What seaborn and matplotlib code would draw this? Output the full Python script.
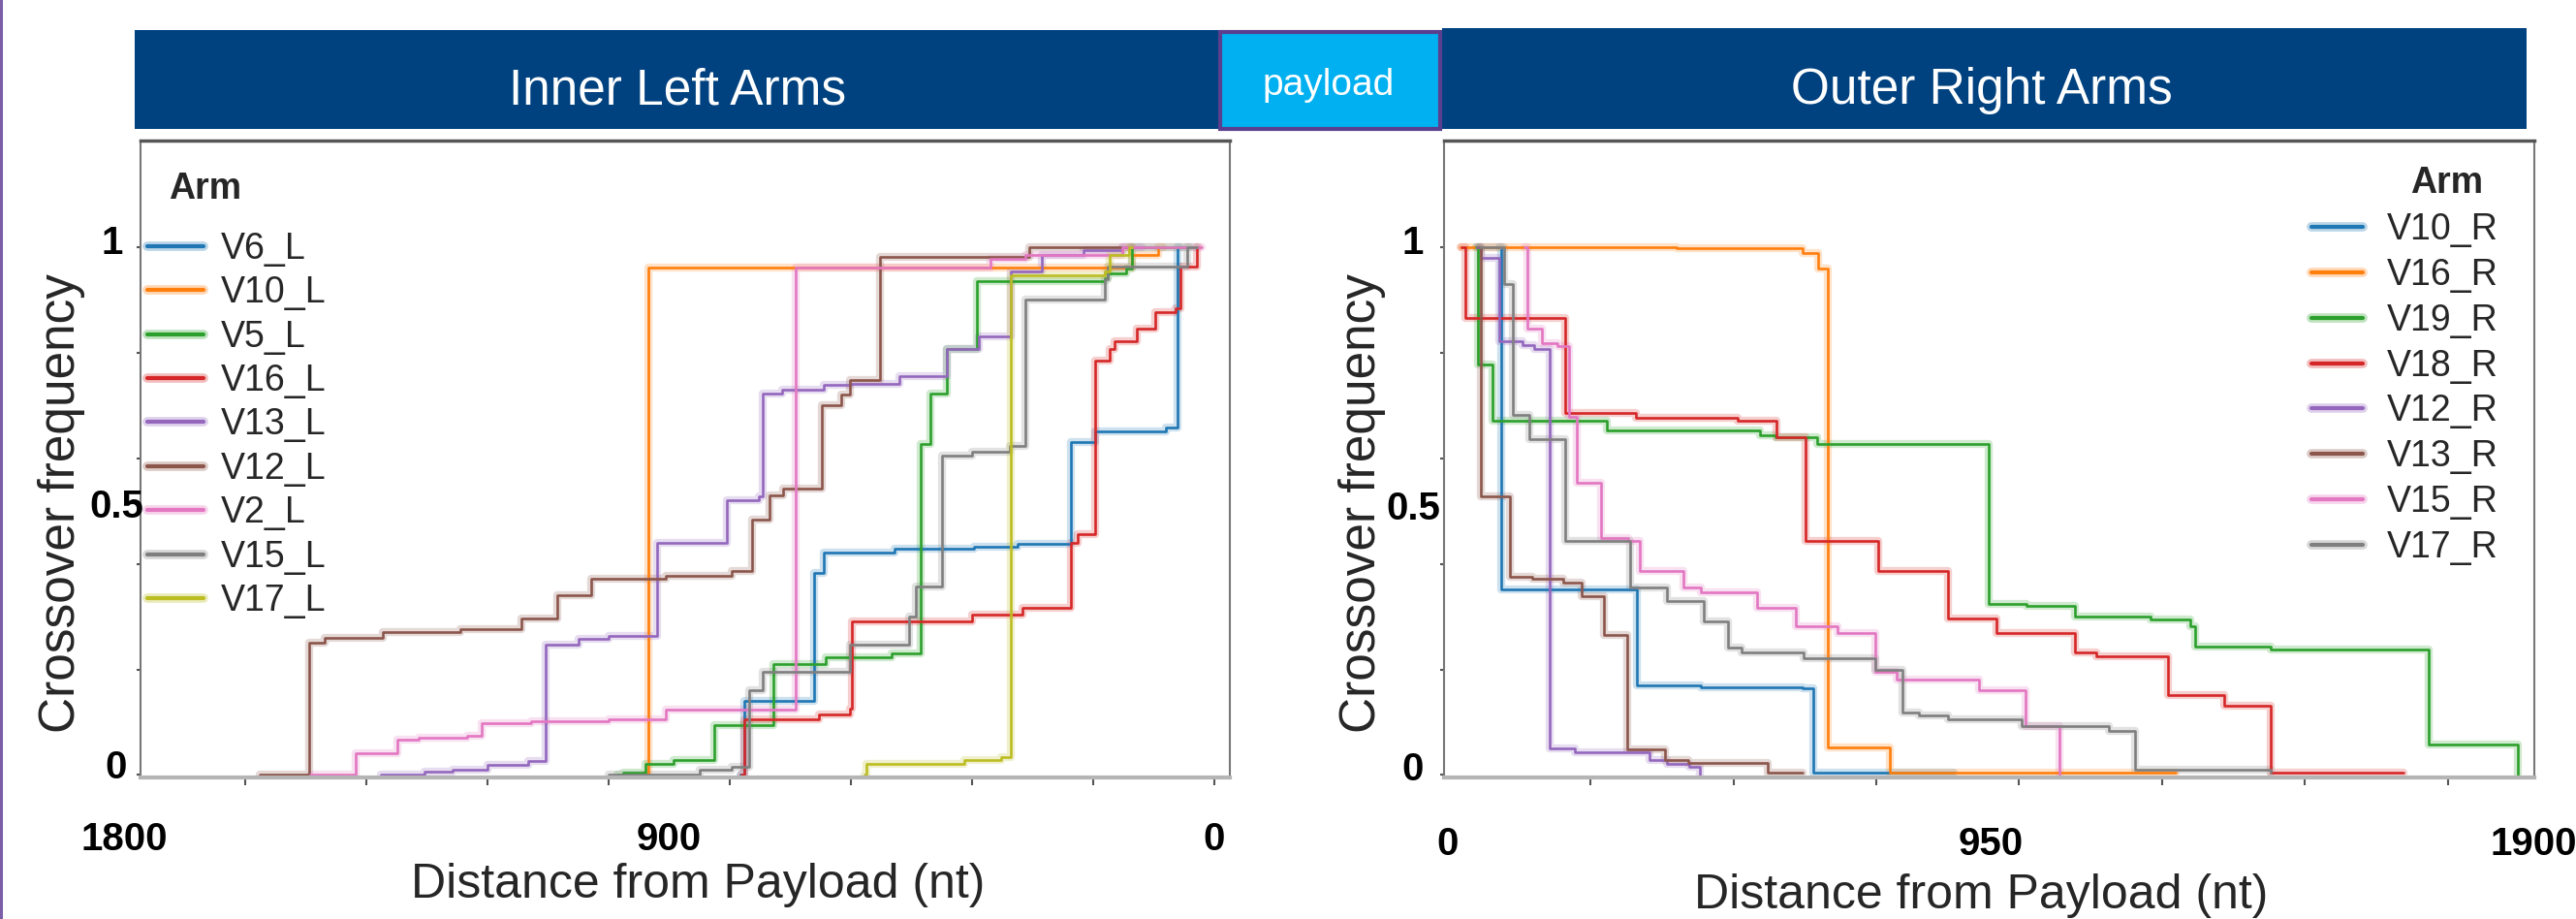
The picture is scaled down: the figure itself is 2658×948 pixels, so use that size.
import pandas as pd
import numpy as np
import matplotlib
matplotlib.use('Agg')
import matplotlib.pyplot as plt
import matplotlib.transforms as mtransforms
from matplotlib.patches import Rectangle
from matplotlib.lines import Line2D
import seaborn as sns

# ---- data: step points (distance from payload in nt, crossover frequency) ----
left_arms = ['V6_L', 'V10_L', 'V5_L', 'V16_L', 'V13_L', 'V12_L', 'V2_L', 'V15_L', 'V17_L']
right_arms = ['V10_R', 'V16_R', 'V19_R', 'V18_R', 'V12_R', 'V13_R', 'V15_R', 'V17_R']

v6_l_dist = [782, 776, 661, 644, 528, 397, 325, 237, 197, 80, 61, 58]
v6_l_freq = [0, 0.141, 0.382, 0.421, 0.429, 0.433, 0.437, 0.631, 0.65, 0.658, 1.0, 1.0]
v10_l_dist = [940, 934, 135, 93, 85]
v10_l_freq = [0, 0.96, 0.985, 1.0, 1.0]
v5_l_dist = [985, 976, 939, 893, 826, 728, 642, 533, 485, 469, 441, 392, 181, 176, 146, 135, 42]
v5_l_freq = [0, 0.005, 0.022, 0.028, 0.094, 0.21, 0.223, 0.23, 0.627, 0.722, 0.806, 0.935,
             0.94, 0.95, 0.958, 1.0, 1.0]
v16_l_dist = [780, 776, 653, 602, 598, 400, 317, 237, 226, 197, 173, 165, 128, 98, 64, 56, 29, 26]
v16_l_freq = [0, 0.106, 0.114, 0.125, 0.29, 0.304, 0.316, 0.44, 0.456, 0.784, 0.806, 0.822,
              0.845, 0.876, 0.884, 0.963, 1.0, 1.0]
v13_l_dist = [1376, 1304, 1258, 1200, 1133, 1104, 1050, 1000, 920, 805, 752, 745, 714, 645,
              600, 520, 441, 389, 336, 285, 216, 152, 120]
v13_l_freq = [0, 0.006, 0.01, 0.02, 0.026, 0.246, 0.258, 0.263, 0.44, 0.52, 0.528, 0.722,
              0.73, 0.738, 0.74, 0.755, 0.806, 0.83, 0.954, 0.985, 0.993, 1.0, 1.0]
v12_l_dist = [1576, 1495, 1469, 1373, 1245, 1144, 1085, 1029, 906, 797, 763, 735, 712, 648,
              616, 601, 552, 306, 136]
v12_l_freq = [0, 0.25, 0.26, 0.27, 0.277, 0.297, 0.34, 0.372, 0.377, 0.386, 0.483, 0.53,
              0.543, 0.70, 0.72, 0.748, 0.98, 1.0, 1.0]
v2_l_dist = [1493, 1418, 1349, 1314, 1234, 1210, 1128, 1000, 906, 691, 370, 312, 152, 21]
v2_l_freq = [0, 0.041, 0.067, 0.071, 0.075, 0.098, 0.102, 0.106, 0.123, 0.96, 0.977, 0.985, 1.0, 1.0]
v15_l_dist = [1000, 850, 797, 768, 746, 602, 504, 493, 449, 400, 338, 312, 181, 176, 45, 29]
v15_l_freq = [0, 0.01, 0.015, 0.16, 0.195, 0.246, 0.30, 0.356, 0.604, 0.612, 0.623, 0.90,
              0.938, 0.963, 1.0, 1.0]
v17_l_dist = [578, 575, 413, 352, 336, 181, 173, 141, 136]
v17_l_freq = [0, 0.022, 0.028, 0.034, 0.946, 0.954, 0.985, 1.0, 1.0]

v10_r_dist = [90, 94, 331, 443, 621, 639, 886]
v10_r_freq = [1.0, 0.351, 0.17, 0.166, 0.164, 0.004, 0.004]
v16_r_dist = [22, 400, 621, 649, 665, 773, 1274]
v16_r_freq = [1.0, 0.997, 0.989, 0.958, 0.053, 0.004, 0.004]
v19_r_dist = [50, 54, 79, 279, 547, 573, 646, 946, 1013, 1098, 1229, 1299, 1308, 1440, 1717, 1873]
v19_r_freq = [1.0, 0.777, 0.67, 0.652, 0.644, 0.639, 0.627, 0.324, 0.32, 0.30, 0.294, 0.281,
              0.244, 0.238, 0.058, 0.0]
v18_r_dist = [25, 32, 206, 330, 508, 576, 626, 753, 875, 960, 1098, 1135, 1260, 1358, 1440, 1672]
v18_r_freq = [1.0, 0.865, 0.686, 0.677, 0.67, 0.639, 0.444, 0.386, 0.296, 0.269, 0.232, 0.224,
              0.151, 0.131, 0.004, 0.004]
v12_r_dist = [52, 58, 90, 132, 152, 178, 223, 353, 384, 423, 442]
v12_r_freq = [1.0, 0.979, 0.822, 0.814, 0.806, 0.051, 0.044, 0.028, 0.022, 0.016, 0.0]
v13_r_dist = [55, 59, 109, 149, 203, 234, 274, 314, 381, 421, 561, 621]
v13_r_freq = [1.0, 0.528, 0.376, 0.372, 0.364, 0.339, 0.265, 0.049, 0.028, 0.023, 0.004, 0.004]
v15_r_dist = [135, 140, 165, 192, 212, 226, 268, 316, 336, 412, 443, 542, 609, 683, 748, 785,
              929, 1011, 1070]
v15_r_freq = [1.0, 0.845, 0.818, 0.812, 0.678, 0.553, 0.448, 0.444, 0.386, 0.355, 0.346, 0.316,
              0.281, 0.269, 0.195, 0.18, 0.16, 0.092, 0.0]
v17_r_dist = [56, 99, 114, 143, 206, 319, 384, 449, 491, 514, 623, 748, 796, 824, 875, 1005,
              1157, 1203, 1440]
v17_r_freq = [1.0, 0.929, 0.682, 0.635, 0.444, 0.355, 0.329, 0.29, 0.242, 0.232, 0.221, 0.2,
              0.118, 0.112, 0.106, 0.092, 0.084, 0.01, 0.005]

left_dists = [v6_l_dist, v10_l_dist, v5_l_dist, v16_l_dist, v13_l_dist, v12_l_dist,
              v2_l_dist, v15_l_dist, v17_l_dist]
left_freqs = [v6_l_freq, v10_l_freq, v5_l_freq, v16_l_freq, v13_l_freq, v12_l_freq,
              v2_l_freq, v15_l_freq, v17_l_freq]
right_dists = [v10_r_dist, v16_r_dist, v19_r_dist, v18_r_dist, v12_r_dist, v13_r_dist,
               v15_r_dist, v17_r_dist]
right_freqs = [v10_r_freq, v16_r_freq, v19_r_freq, v18_r_freq, v12_r_freq, v13_r_freq,
               v15_r_freq, v17_r_freq]


def long_table(arms, dists, freqs):
    parts = [pd.DataFrame({'dist': d, 'freq': f, 'Arm': a}) for a, d, f in zip(arms, dists, freqs)]
    return pd.concat(parts, ignore_index=True)


left_df = long_table(left_arms, left_dists, left_freqs)
right_df = long_table(right_arms, right_dists, right_freqs)

sns.set_theme(style='ticks')
plt.rcParams['font.family'] = ['Liberation Sans', 'DejaVu Sans']

W, H = 2658, 948
fig = plt.figure(figsize=(W / 100, H / 100), dpi=100)
fig.patch.set_facecolor('white')


def px_axes(x0, y0, x1, y1):
    return fig.add_axes([x0 / W, 1 - y1 / H, (x1 - x0) / W, (y1 - y0) / H])


def fx(x):
    return x / W


def fy(y):
    return 1 - y / H


axL = px_axes(145, 145, 1269, 802)
axR = px_axes(1490, 145, 2615, 802)

pal = sns.color_palette('tab10')

for ax, df, arms in [(axL, left_df, left_arms), (axR, right_df, right_arms)]:
    colors = pal[:len(arms)]
    sns.lineplot(data=df, x='dist', y='freq', hue='Arm', hue_order=arms, palette=colors,
                 estimator=None, sort=False, drawstyle='steps-post', lw=6, alpha=0.22,
                 legend=False, ax=ax)
    sns.lineplot(data=df, x='dist', y='freq', hue='Arm', hue_order=arms, palette=colors,
                 estimator=None, sort=False, drawstyle='steps-post', lw=1.9,
                 legend=False, ax=ax)
    ax.set_ylim(-0.0046, 1.201)
    ax.set_yticks(np.arange(0, 1.01, 0.2))
    ax.set_xlabel('')
    ax.set_ylabel('')
    ax.tick_params(labelbottom=False, labelleft=False)
    ax.tick_params(axis='x', direction='out', length=6, width=1.5, color='#555555')
    ax.tick_params(axis='y', direction='out', length=3, width=1.5, color='#555555')
    ax.spines['top'].set_color('#555555')
    ax.spines['top'].set_linewidth(2.5)
    ax.spines['left'].set_color('#777777')
    ax.spines['right'].set_color('#777777')
    ax.spines['left'].set_linewidth(1.5)
    ax.spines['right'].set_linewidth(1.5)
    ax.spines['bottom'].set_color('#b5b5b5')
    ax.spines['bottom'].set_linewidth(3)

axL.set_xlim(1773, -26)
axL.set_xticks(np.arange(0, 1601, 200))
axR.set_xlim(-6, 1901)
axR.set_xticks(np.arange(250, 1751, 250))

# x tick labels
bold = dict(fontsize=29, fontweight='bold', color='black')
for ax, vals, base in [(axL, [1800, 900, 0], 877), (axR, [0, 950, 1900], 882)]:
    tr = mtransforms.blended_transform_factory(ax.transData, fig.transFigure)
    for v in vals:
        ax.text(v, fy(base), str(v), transform=tr, ha='center', va='baseline',
                clip_on=False, **bold)

# y tick labels
for ax, offs in [(axL, [(-18, 7), (3, 7), (-14, 4)]), (axR, [(-21, 7), (-4, 9), (-21, 6)])]:
    for (val, lab), (dx, dy) in zip([(1.0, '1'), (0.5, '0.5'), (0.0, '0')], offs):
        ax.annotate(lab, xy=(0, val), xycoords=('axes fraction', 'data'), xytext=(dx, -dy),
                    textcoords='offset pixels', ha='right', va='baseline',
                    annotation_clip=False, **bold)

# axis titles
fig.text(fx(720), fy(926), 'Distance from Payload (nt)', fontsize=36, ha='center', va='baseline')
fig.text(fx(2044), fy(937), 'Distance from Payload (nt)', fontsize=36, ha='center', va='baseline')
fig.text(fx(64), fy(519), 'Crossover frequency', fontsize=37, rotation=90, ha='center', va='center')
fig.text(fx(1405), fy(519), 'Crossover frequency', fontsize=37, rotation=90, ha='center', va='center')

# legends
for ax, arms, x0, y0, hl, pad, sp, tx, tb in [
        (axL, left_arms, 152, 239, 1.55, 0.48, 0.25, 174, 205),
        (axR, right_arms, 2385, 219, 1.41, 0.67, 0.29, 2487, 199)]:
    handles = [(Line2D([], [], color=c, lw=7, alpha=0.3), Line2D([], [], color=c, lw=3))
               for c in pal[:len(arms)]]
    ax.legend(handles, arms, loc='upper left', bbox_to_anchor=(fx(x0), fy(y0)),
              bbox_transform=fig.transFigure, frameon=False, fontsize=27,
              handlelength=hl, handletextpad=pad, labelspacing=sp, borderpad=0,
              borderaxespad=0)
    fig.text(fx(tx), fy(tb), 'Arm', fontsize=27, fontweight='bold', ha='left', va='baseline')

# header banner
navy = '#00417f'
fig.add_artist(Rectangle((fx(139), fy(133)), fx(1258 - 139), (133 - 31) / H,
                         transform=fig.transFigure, facecolor=navy, edgecolor='none'))
fig.add_artist(Rectangle((fx(1488), fy(133)), fx(2607 - 1488), (133 - 29) / H,
                         transform=fig.transFigure, facecolor=navy, edgecolor='none'))
fig.add_artist(Rectangle((fx(1259), fy(133)), fx(1486 - 1259), (133 - 33) / H,
                         transform=fig.transFigure, facecolor='#00b0f0', edgecolor='#5b3f8f',
                         linewidth=3))
fig.text(fx(699), fy(107), 'Inner Left Arms', fontsize=37, color='white', ha='center', va='baseline')
fig.text(fx(2045), fy(107), 'Outer Right Arms', fontsize=37, color='white', ha='center', va='baseline')
fig.text(fx(1371), fy(98), 'payload', fontsize=28, color='white', ha='center', va='baseline')

# purple slide edge on the left
fig.add_artist(Line2D([fx(1.5), fx(1.5)], [0, 1], transform=fig.transFigure,
                      color='#7b5ea7', lw=2.2))

fig.savefig('out.png', dpi=100)
